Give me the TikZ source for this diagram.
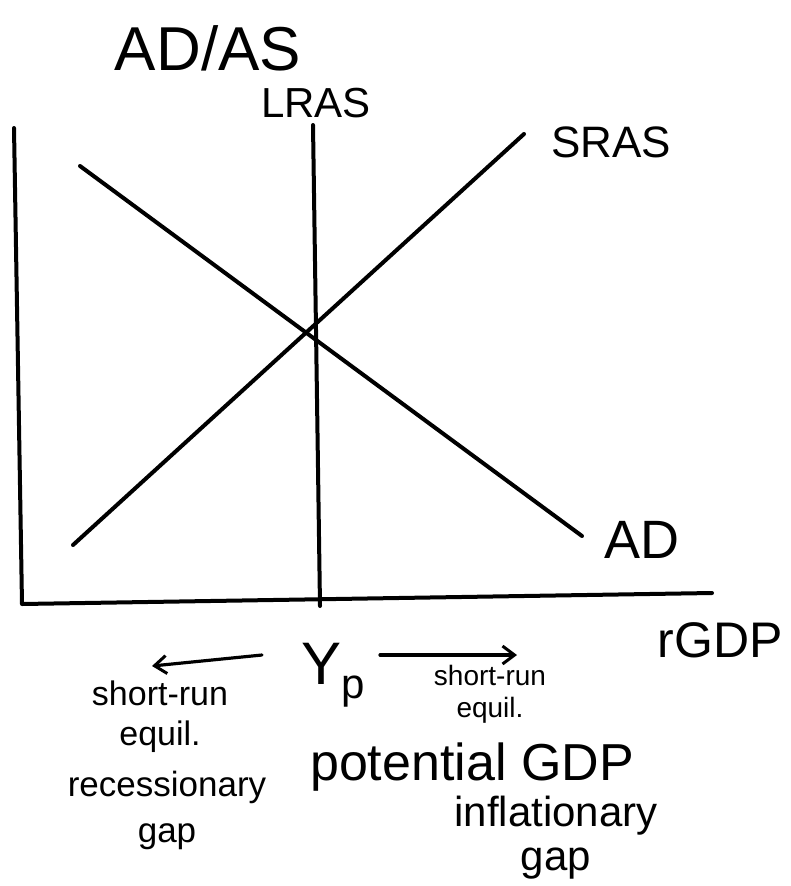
\documentclass[tikz,border=0pt]{standalone}
\usepackage{fontspec}
\setmainfont{Liberation Sans}
\usetikzlibrary{arrows.meta}
\begin{document}
\begin{tikzpicture}[x=1pt,y=-1pt,
  ink/.style={line width=4pt,line cap=round,line join=round,black},
  arr/.style={ink,line width=3.2pt,-{Straight Barb[length=12pt,width=18pt,line width=3pt]}},
  lbl/.style={inner sep=0pt,align=center,text=black}]
\useasboundingbox (0,0) rectangle (790,886);
% axes
\coordinate (ytop) at (14,128);
\coordinate (orig) at (22,604);
\coordinate (xend) at (712,593);
\draw[ink] (ytop) -- (orig) -- (xend);
% curves
\coordinate (lrasT) at (313,125);
\coordinate (lrasB) at (320,606);
\draw[ink] (lrasT) -- (316,330) -- (lrasB);
\coordinate (srasB) at (73,545);
\coordinate (srasT) at (524,134);
\draw[ink] (srasB) -- (srasT);
\coordinate (adT) at (80,166);
\coordinate (adB) at (582,536);
\draw[ink] (adT) -- (adB);
% labels
\node[lbl,font=\fontsize{62}{62}\selectfont] (title) at (208,48) {AD/AS};
\node[lbl,font=\fontsize{42}{42}\selectfont] (lras) at (316,103) {LRAS};
\node[lbl,font=\fontsize{44}{44}\selectfont] (sras) at (611,142) {SRAS};
\node[lbl,font=\fontsize{54}{54}\selectfont] (ad) at (642,540) {AD};
\node[lbl,font=\fontsize{50}{50}\selectfont] (rgdp) at (720,640) {rGDP};
\node[lbl,font=\fontsize{60}{60}\selectfont] (yp) at (333,675) {Y\textsubscript{p}};
% arrows
\coordinate (la0) at (262,655);
\coordinate (la1) at (152,666);
\draw[arr] (la0) -- (la1);
\coordinate (ra0) at (380,655);
\coordinate (ra1) at (517,655);
\draw[arr] (ra0) -- (ra1);
% texts
\node[lbl,font=\fontsize{34}{40}\selectfont] (srl) at (160,717) {short-run\\equil.};
\node[lbl,font=\fontsize{35}{46}\selectfont] (rec) at (167,810) {recessionary\\gap};
\node[lbl,font=\fontsize{28}{32}\selectfont] (srr) at (490,694) {short-run\\equil.};
\node[lbl,font=\fontsize{52}{52}\selectfont] (pot) at (472,767) {potential GDP};
\node[lbl,font=\fontsize{42}{44}\selectfont] (inf) at (556,838) {inflationary\\gap};
\end{tikzpicture}
\end{document}
